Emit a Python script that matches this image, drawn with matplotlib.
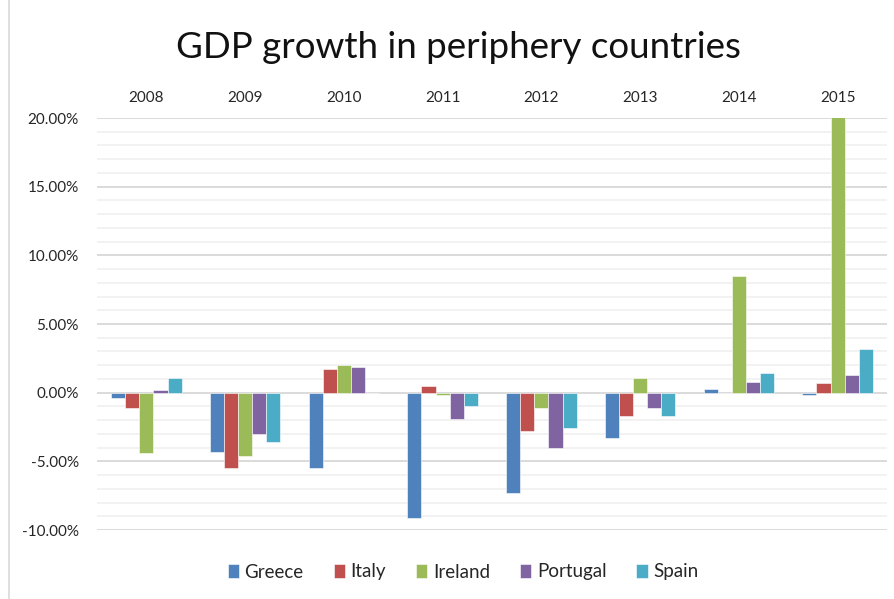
import matplotlib.pyplot as plt
import matplotlib.ticker as mticker
from matplotlib.lines import Line2D
import numpy as np

YEARS = ["2008", "2009", "2010", "2011", "2012", "2013", "2014", "2015"]
COUNTRIES = ["Greece", "Italy", "Ireland", "Portugal", "Spain"]

# annual real GDP growth, %
GREECE = [-0.4, -4.3, -5.5, -9.1, -7.3, -3.3, 0.3, -0.2]
ITALY = [-1.1, -5.5, 1.7, 0.5, -2.8, -1.7, 0.0, 0.7]
IRELAND = [-4.4, -4.6, 2.0, -0.2, -1.1, 1.1, 8.5, 25.6]
PORTUGAL = [0.2, -3.0, 1.9, -1.9, -4.0, -1.1, 0.8, 1.3]
SPAIN = [1.1, -3.6, 0.0, -1.0, -2.6, -1.7, 1.4, 3.2]

COLORS = ["#4F81BD", "#C0504D", "#9BBB59", "#8064A2", "#4BACC6"]

plt.rcParams["font.family"] = ["Lato", "DejaVu Sans"]

fig = plt.figure(figsize=(8.94, 5.99), dpi=100)
ax = fig.add_axes([97 / 894, 1 - 530 / 599, 790 / 894, 412 / 599])

series = [GREECE, ITALY, IRELAND, PORTUGAL, SPAIN]
x = np.arange(len(YEARS))
w = 0.143
for i, (name, vals, col) in enumerate(zip(COUNTRIES, series, COLORS)):
    ax.bar(x + (i - 2) * w, vals, width=w, color=col, label=name,
           edgecolor="white", linewidth=0.4, zorder=3)

ax.set_xlim(-0.5, len(YEARS) - 0.5)
ax.set_ylim(-10, 20)
ax.yaxis.set_major_locator(mticker.MultipleLocator(5))
ax.yaxis.set_minor_locator(mticker.MultipleLocator(1))
ax.yaxis.set_major_formatter(mticker.FuncFormatter(lambda v, _: f"{v:.2f}%"))
ax.grid(axis="y", which="major", color="#d4d4d4", linewidth=1.2, zorder=0)
ax.grid(axis="y", which="minor", color="#f0f0f0", linewidth=1.2, zorder=0)

ax.set_xticks(x)
ax.set_xticklabels(YEARS)
ax.xaxis.tick_top()
ax.tick_params(axis="x", length=0, pad=9, labelsize=11, labelcolor="#262626")
ax.tick_params(axis="y", which="both", length=0, pad=13, labelsize=11,
               labelcolor="#262626")
for s in ax.spines.values():
    s.set_visible(False)

fig.text(0.513, 1 - 47 / 599, "GDP growth in periphery countries",
         ha="center", va="center", fontsize=26.5, color="#111111")

fig.legend(loc="center", bbox_to_anchor=(0.518, 1 - 572 / 599), ncol=5,
           frameon=False, fontsize=13.5, handlelength=0.6, handleheight=0.8,
           handletextpad=0.3, columnspacing=1.6, labelcolor="#262626")

fig.add_artist(Line2D([8.5 / 894, 8.5 / 894], [0, 1], color="#d9d9d9",
                      linewidth=1.2, transform=fig.transFigure))

fig.savefig("out.png", dpi=100, facecolor="white")
